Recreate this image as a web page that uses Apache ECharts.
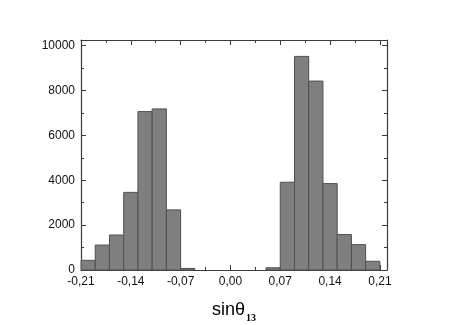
<!DOCTYPE html>
<html>
<head>
<meta charset="utf-8">
<script src="https://cdn.jsdelivr.net/npm/echarts@6/dist/echarts.min.js"></script>
<style>
  html, body { margin: 0; padding: 0; background: #fff; }
  #chart { width: 452px; height: 325px; }
</style>
</head>
<body>
<div id="chart"></div>
<script>
/* Гистограмма sinθ13: бины шириной 0.02, два пика симметрично около нуля. */

const binStarts = [-0.21, -0.19, -0.17, -0.15, -0.13, -0.11, -0.09, -0.07,
                   0.05, 0.07, 0.09, 0.11, 0.13, 0.15, 0.17, 0.19];
const binWidth = 0.02;
const counts = [430, 1110, 1560, 3460, 7060, 7180, 2680, 70,
                100, 3910, 9520, 8420, 3850, 1580, 1130, 390];
const xTicks = [-0.21, -0.14, -0.07, 0, 0.07, 0.14, 0.21];
const yTicks = [0, 2000, 4000, 6000, 8000, 10000];

const ink = '#111';
const frame = '#3a3a3a';
const font = 'Liberation Sans, Arial, sans-serif';

const data = binStarts.map((x0, i) => [x0, x0 + binWidth, counts[i]]);

const fmtX = v => {
  const hit = xTicks.find(t => Math.abs(t - v) < 1e-6);
  return hit === undefined ? '' : hit.toFixed(2).replace('.', ',');
};
const fmtY = v => yTicks.includes(Math.round(v)) ? String(Math.round(v)) : '';

const tickStyle = { inside: true, length: 5, lineStyle: { color: frame, width: 1 } };
const minorStyle = { show: true, splitNumber: 2, length: 3, lineStyle: { color: frame, width: 1 } };
const lineStyle = { show: true, onZero: false, lineStyle: { color: frame, width: 1.2 } };

const xCommon = {
  type: 'value', min: -0.21, max: 0.22, interval: 0.07,
  axisLine: lineStyle, axisTick: tickStyle, minorTick: minorStyle,
  splitLine: { show: false },
};
const yCommon = {
  type: 'value', min: 0, max: 10250, interval: 2000,
  axisLine: lineStyle, axisTick: tickStyle, minorTick: minorStyle,
  splitLine: { show: false },
};

const chart = echarts.init(document.getElementById('chart'), null, { renderer: 'canvas' });
chart.setOption({
  animation: false,
  grid: { left: 81, right: 65, top: 40, bottom: 55, outerBoundsMode: 'none' },
  xAxis: [
    Object.assign({}, xCommon, {
      position: 'bottom',
      axisLabel: { color: ink, fontFamily: font, fontSize: 12, margin: 6, formatter: fmtX, showMaxLabel: false },
      name: '{a|sinθ}{b|13}',
      nameLocation: 'middle',
      nameGap: 31,
      nameTextStyle: {
        rich: {
          a: { fontFamily: font, fontSize: 18, lineHeight: 20, color: '#000', verticalAlign: 'top' },
          b: { fontFamily: 'Liberation Serif, serif', fontSize: 10, lineHeight: 22, fontWeight: 'bold', color: '#000', verticalAlign: 'bottom', padding: [0, 0, 0, 1] },
        },
      },
    }),
    Object.assign({}, xCommon, { position: 'top', axisLabel: { show: false } }),
  ],
  yAxis: [
    Object.assign({}, yCommon, {
      position: 'left',
      axisLabel: { color: ink, fontFamily: font, fontSize: 12, margin: 6, formatter: fmtY, showMaxLabel: false },
    }),
    Object.assign({}, yCommon, { position: 'right', axisLabel: { show: false } }),
  ],
  series: [{
    type: 'custom',
    xAxisIndex: 0,
    yAxisIndex: 0,
    data: data,
    encode: { x: [0, 1], y: 2 },
    renderItem(params, api) {
      const p0 = api.coord([api.value(0), api.value(2)]);
      const p1 = api.coord([api.value(1), 0]);
      return {
        type: 'rect',
        shape: { x: p0[0], y: p0[1], width: p1[0] - p0[0], height: p1[1] - p0[1] },
        style: { fill: '#7f7f7f', stroke: '#505050', lineWidth: 1 },
      };
    },
  }],
});
</script>
</body>
</html>
